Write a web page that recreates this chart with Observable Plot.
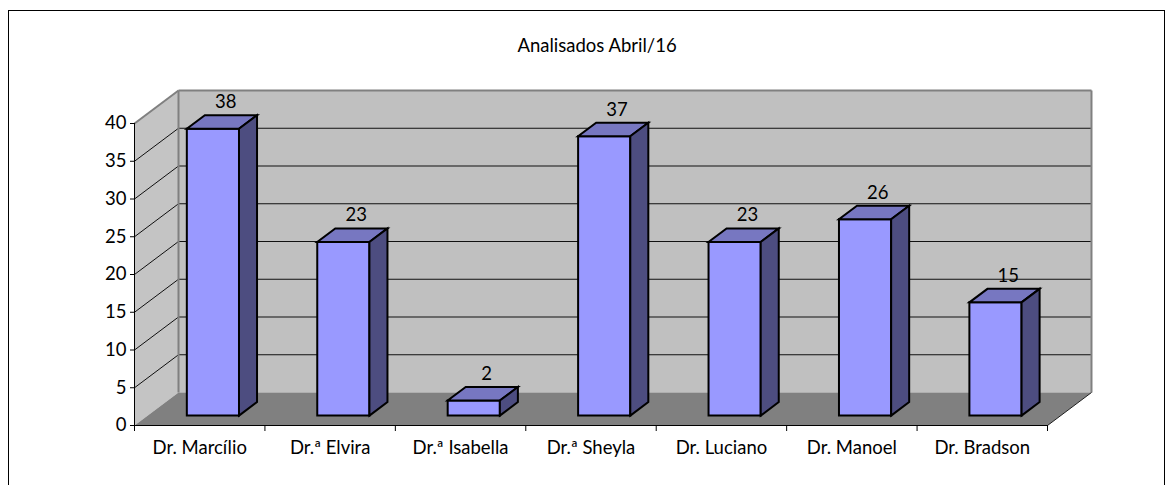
<!DOCTYPE html>
<html>
<head>
<meta charset="utf-8">
<script src="https://cdn.jsdelivr.net/npm/d3@7"></script>
<script src="https://cdn.jsdelivr.net/npm/@observablehq/plot@0.6"></script>
<style>
  html, body { margin: 0; padding: 0; background: #fff; }
  #wrap { position: relative; width: 1173px; height: 485px; overflow: hidden; }
  #border { position: absolute; left: 8px; top: 10px; width: 1157px; height: 500px; border: 1px solid #000; box-sizing: border-box; pointer-events: none; }
  #chart { position: absolute; left: 0; top: 0; }
</style>
</head>
<body>
<div id="wrap"><div id="chart"></div><div id="border"></div></div>
<script>
const title = "Analisados Abril/16";
const categories = ["Dr. Marcílio", "Dr.ª Elvira", "Dr.ª Isabella", "Dr.ª Sheyla", "Dr. Luciano", "Dr. Manoel", "Dr. Bradson"];
const values = [38, 23, 2, 37, 23, 26, 15];
const yTicks = [0, 5, 10, 15, 20, 25, 30, 35, 40];
const gridValues = [5, 10, 15, 20, 25, 30, 35];

// oblique "3D" projection in data units (depth z in 0..1)
const KX = 0.3373, KY = 4.37;
const N = categories.length, YMAX = 40;
const proj = (c, v, z) => ({x: c + z * KX, y: v + z * KY});
const poly = (id, corners) => corners.map(([c, v, z]) => ({id, ...proj(c, v, z)}));
const seg = (a, b) => { const p = proj(...a), q = proj(...b); return {x1: p.x, y1: p.y, x2: q.x, y2: q.y}; };

const backWall = poly("back", [[0,0,1],[N,0,1],[N,YMAX,1],[0,YMAX,1]]);
const leftWall = poly("left", [[0,0,0],[0,0,1],[0,YMAX,1],[0,YMAX,0]]);
const floor = poly("floor", [[0,0,0],[N,0,0],[N,0,1],[0,0,1]]);

const BW = 0.4, Z0 = 0.30, Z1 = 0.71;
const fronts = [], tops = [], sides = [];
values.forEach((v, i) => {
  const cL = i + 0.5 - BW / 2, cR = i + 0.5 + BW / 2;
  fronts.push(...poly(i, [[cL,0,Z0],[cR,0,Z0],[cR,v,Z0],[cL,v,Z0]]));
  tops.push(...poly(i, [[cL,v,Z0],[cR,v,Z0],[cR,v,Z1],[cL,v,Z1]]));
  sides.push(...poly(i, [[cR,0,Z0],[cR,0,Z1],[cR,v,Z1],[cR,v,Z0]]));
});

const leftGrid = gridValues.map(v => seg([0,v,0],[0,v,1]));
const backGrid = gridValues.map(v => seg([0,v,1],[N,v,1]));
const wallEdges = [
  seg([0,YMAX,1],[N,YMAX,1]),
  seg([0,0,1],[0,YMAX,1]),
  seg([N,0,1],[N,YMAX,1]),
  seg([0,YMAX,0],[0,YMAX,1])
];
const floorEdge = [seg([N,0,0],[N,0,1])];

const FS = 18.5;
const polyOpts = (fill, stroke, sw) => ({x: "x", y: "y", z: "id", fill, stroke, strokeWidth: sw, curve: "linear-closed", strokeLinejoin: "miter", strokeMiterlimit: 4});
const linkOpts = (stroke, sw) => ({x1: "x1", y1: "y1", x2: "x2", y2: "y2", stroke, strokeWidth: sw});

const chart = Plot.plot({
  width: 1173,
  height: 485,
  marginLeft: 134,
  marginRight: 126,
  marginTop: 123,
  marginBottom: 60,
  x: {type: "linear", domain: [0, N], axis: null},
  y: {type: "linear", domain: [0, YMAX], axis: null},
  style: {fontFamily: "Lato, 'Open Sans', sans-serif", fontSize: FS + "px", color: "#000", background: "transparent", overflow: "visible"},
  marks: [
    Plot.line(backWall, polyOpts("#C0C0C0", "none", 0)),
    Plot.line(leftWall, polyOpts("#C4C4C4", "none", 0)),
    Plot.line(floor, polyOpts("#808080", "none", 0)),
    Plot.link(leftGrid, linkOpts("#111", 1)),
    Plot.link(backGrid, linkOpts("#111", 1)),
    Plot.link(wallEdges, linkOpts("#808080", 2)),
    Plot.link(floorEdge, linkOpts("#222", 1)),
    Plot.ruleX([0], {y1: 0, y2: YMAX, stroke: "#000", strokeWidth: 1}),
    Plot.ruleY([0], {x1: 0, x2: N, stroke: "#000", strokeWidth: 1}),
    Plot.axisY(yTicks, {anchor: "left", tickSize: 4, tickPadding: 4, label: null, fontSize: FS, stroke: "#000"}),
    Plot.axisX(d3.range(N + 1), {anchor: "bottom", tickSize: 6, tickFormat: () => "", label: null, stroke: "#000"}),
    Plot.text(categories, {x: (d, i) => i + 0.5, frameAnchor: "bottom", dy: 28, text: d => d, fontSize: FS}),
    Plot.line(fronts, polyOpts("#9999FF", "#000", 2)),
    Plot.line(tops, polyOpts("#7777C1", "#000", 2)),
    Plot.line(sides, polyOpts("#4D4D80", "#000", 2)),
    Plot.text(values, {x: (d, i) => proj(i + 0.5, d, 0.5).x, y: (d, i) => proj(i + 0.5, d, 0.5).y, text: d => String(d), dx: 4, dy: -20, fontSize: FS}),
    Plot.text([title], {frameAnchor: "top", dx: 6, dy: -85, text: d => d, fontSize: FS})
  ]
});
document.getElementById("chart").appendChild(chart);
</script>
</body>
</html>
